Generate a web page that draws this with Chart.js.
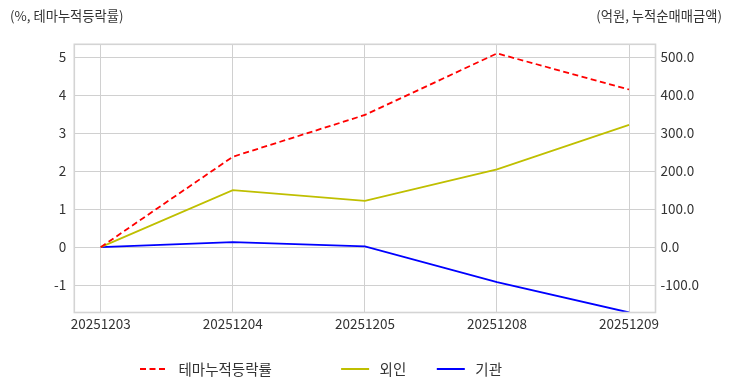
<!DOCTYPE html>
<html>
<head>
<meta charset="utf-8">
<script src="https://cdn.jsdelivr.net/npm/chart.js@4.4.1/dist/chart.umd.min.js"></script>
<style>
  html, body { margin: 0; padding: 0; background: #fff; }
  #wrap { position: relative; width: 732px; height: 392px; }
  canvas { position: absolute; left: 0; top: 0; }
  .ttl { position: absolute; top: 6px; font: 13.3px "Noto Sans CJK KR", "Noto Sans", sans-serif; color: #333; white-space: nowrap; }
</style>
</head>
<body>
<div id="wrap">
  <canvas id="c" width="732" height="392"></canvas>
  <div class="ttl" style="left:10px;">(%, 테마누적등락률)</div>
  <div class="ttl" style="right:10px;">(억원, 누적순매매금액)</div>
</div>
<script>
const categories = ["20251203", "20251204", "20251205", "20251208", "20251209"];
const themeReturn = [0, 2.38, 3.48, 5.10, 4.15];
const foreignNet = [0, 150, 122, 205, 322];
const institutionNet = [0, 13, 2, -92, -172];
const seriesNames = ["테마누적등락률", "외인", "기관"];
const leftTicks = [-1, 0, 1, 2, 3, 4, 5];
const rightTicks = [-100, 0, 100, 200, 300, 400, 500];

const pts = arr => arr.map((v, i) => ({ x: i, y: v }));
const FONT = { family: '"Noto Sans CJK KR", "Noto Sans", sans-serif', size: 13.5 };
const LEG_PAD = 30.5;

const frame = {
  id: 'frame',
  afterLayout(chart) {
    const lg = chart.legend;
    if (lg) {
      lg.left = 140 - LEG_PAD;
      lg.top = 369 - LEG_PAD - 7.25;
    }
  },
  afterDraw(chart) {
    const a = chart.chartArea, ctx = chart.ctx;
    ctx.save();
    ctx.strokeStyle = '#d4d4d4';
    ctx.lineWidth = 1.6;
    ctx.strokeRect(a.left, a.top, a.right - a.left, a.bottom - a.top);
    ctx.restore();
  }
};

new Chart(document.getElementById('c'), {
  type: 'line',
  data: {
    datasets: [
      { label: seriesNames[0], data: pts(themeReturn), yAxisID: 'y', borderColor: '#ff0000', backgroundColor: '#ff0000', borderWidth: 1.8, borderDash: [6, 3.5], pointRadius: 0, tension: 0 },
      { label: seriesNames[1], data: pts(foreignNet), yAxisID: 'y1', borderColor: '#bfbf00', backgroundColor: '#bfbf00', borderWidth: 1.8, pointRadius: 0, tension: 0 },
      { label: seriesNames[2], data: pts(institutionNet), yAxisID: 'y1', borderColor: '#0000ff', backgroundColor: '#0000ff', borderWidth: 1.8, pointRadius: 0, tension: 0 }
    ]
  },
  options: {
    responsive: false,
    animation: false,
    layout: { padding: { top: 44.3, left: 0, right: 0, bottom: 2.5 } },
    scales: {
      x: {
        type: 'linear', min: -0.2, max: 4.2,
        afterBuildTicks: s => { s.ticks = categories.map((c, i) => ({ value: i })); },
        ticks: { callback: v => categories[v], color: '#333', font: FONT, padding: 3, maxRotation: 0, autoSkip: false },
        grid: { color: '#d0d0d0', drawTicks: false },
        border: { display: false },
        afterFit: s => { s.height = 22; }
      },
      y: {
        position: 'left', min: -1.72, max: 5.34,
        afterBuildTicks: s => { s.ticks = leftTicks.map(v => ({ value: v })); },
        ticks: { color: '#333', font: FONT, padding: 8 },
        grid: { color: '#d0d0d0', drawTicks: false },
        border: { display: false },
        afterFit: s => { s.width = 74.3; }
      },
      y1: {
        position: 'right', min: -172, max: 534,
        afterBuildTicks: s => { s.ticks = rightTicks.map(v => ({ value: v })); },
        ticks: { color: '#333', font: FONT, padding: 5, callback: v => v.toFixed(1) },
        grid: { drawOnChartArea: false, drawTicks: false },
        border: { display: false },
        afterFit: s => { s.width = 76.5; }
      }
    },
    plugins: {
      legend: {
        position: 'bottom',
        align: 'start',
        labels: {
          usePointStyle: true, pointStyle: 'line', pointStyleWidth: 28,
          color: '#333', font: { family: FONT.family, size: 14.5 }, padding: LEG_PAD,
          generateLabels: chart => Chart.defaults.plugins.legend.labels.generateLabels(chart).map((it, i) => {
            const ds = chart.data.datasets[i];
            it.lineDash = ds.borderDash || [];
            it.lineWidth = ds.borderWidth;
            it.strokeStyle = ds.borderColor;
            it.text = ' ' + it.text + (i === 0 ? '\u3000\u3000   ' : '');
            return it;
          })
        }
      },
      tooltip: { enabled: false }
    }
  },
  plugins: [frame]
});
</script>
</body>
</html>
